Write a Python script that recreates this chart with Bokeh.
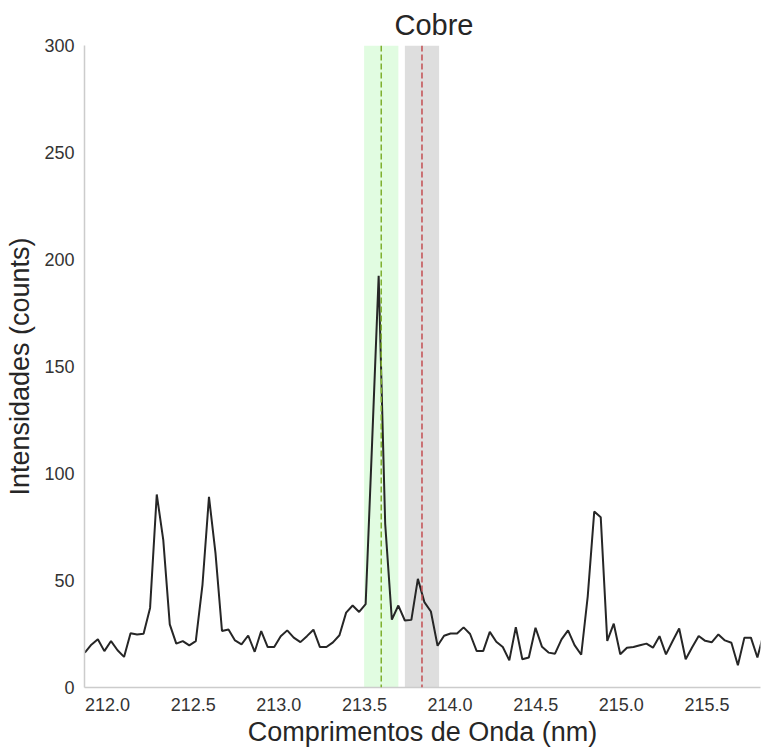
from bokeh.plotting import figure
from bokeh.models import Range1d, BoxAnnotation, Span, FixedTicker, ColumnDataSource
from bokeh.embed import file_html
from bokeh.resources import INLINE

# Wavelength grid (nm)
wavelength = [
    211.867, 211.905, 211.943, 211.981, 212.020, 212.058, 212.096, 212.134, 212.172, 212.210,
    212.248, 212.287, 212.325, 212.363, 212.401, 212.439, 212.477, 212.515, 212.554, 212.592,
    212.630, 212.668, 212.706, 212.744, 212.782, 212.821, 212.859, 212.897, 212.935, 212.973,
    213.011, 213.049, 213.087, 213.126, 213.164, 213.202, 213.240, 213.278, 213.316, 213.354,
    213.393, 213.431, 213.469, 213.507, 213.545, 213.583, 213.621, 213.660, 213.698, 213.736,
    213.774, 213.812, 213.850, 213.888, 213.927, 213.965, 214.003, 214.041, 214.079, 214.117,
    214.155, 214.194, 214.232, 214.270, 214.308, 214.346, 214.384, 214.422, 214.460, 214.499,
    214.537, 214.575, 214.613, 214.651, 214.689, 214.727, 214.766, 214.804, 214.842, 214.880,
    214.918, 214.956, 214.994, 215.033, 215.071, 215.109, 215.147, 215.185, 215.223, 215.261,
    215.300, 215.338, 215.376, 215.414, 215.452, 215.490, 215.528, 215.567, 215.605, 215.643,
    215.681, 215.719, 215.757, 215.795, 215.834,
]

# Intensities (counts)
intensity = [
    16.3, 20.0, 22.5, 17.0, 21.7, 17.4, 14.3, 25.4, 24.8, 25.1,
    37.2, 90.2, 69.0, 29.5, 20.5, 21.7, 19.7, 21.7, 48.0, 89.1,
    62.8, 26.4, 27.1, 22.0, 20.2, 24.3, 16.7, 26.4, 18.9, 18.9,
    23.9, 26.7, 23.3, 21.2, 24.0, 27.0, 18.9, 18.9, 21.1, 24.4,
    35.0, 38.3, 35.3, 39.0, 115.0, 192.4, 76.6, 31.7, 38.3, 31.3,
    31.6, 50.8, 39.9, 35.5, 19.5, 24.2, 25.2, 25.2, 28.1, 25.0,
    17.1, 17.1, 26.0, 21.4, 18.9, 12.7, 28.2, 13.2, 14.0, 27.9,
    19.0, 16.3, 15.8, 22.5, 26.7, 19.8, 15.3, 42.6, 82.2, 79.5,
    21.8, 29.8, 15.5, 18.6, 18.9, 19.7, 20.5, 18.6, 24.0, 15.5,
    21.7, 27.6, 13.2, 18.8, 24.1, 21.8, 21.1, 24.8, 22.0, 20.9,
    10.4, 23.3, 23.3, 14.0, 26.0,
]

x_limits = [211.865, 215.813]
y_limits = [0, 300]
x_ticks = [212.0, 212.5, 213.0, 213.5, 214.0, 214.5, 215.0, 215.5]
y_ticks = [0, 50, 100, 150, 200, 250, 300]

line_cu = 213.598       # reference line (green)
band_cu = [213.498, 213.698]
line_other = 213.836    # second line (red)
band_other = [213.736, 213.936]

FONT = "Liberation Sans"

p = figure(width=761, height=749, output_backend="svg", toolbar_location=None,
           x_range=Range1d(*x_limits), y_range=Range1d(*y_limits),
           title="Cobre",
           min_border_left=84, min_border_right=1, min_border_top=45, min_border_bottom=59)

p.background_fill_color = "white"
p.border_fill_color = "white"
p.outline_line_color = None
p.xgrid.grid_line_color = None
p.ygrid.grid_line_color = None

p.title.text_font = FONT
p.title.text_font_size = "29px"
p.title.text_font_style = "normal"
p.title.text_color = "#262626"
p.title.align = "left"
p.title.offset = 310

for ax in (p.xaxis[0], p.yaxis[0]):
    ax.axis_line_color = "#cccccc"
    ax.axis_line_width = 1.5
    ax.major_tick_line_color = None
    ax.minor_tick_line_color = None
    ax.major_tick_out = 0
    ax.major_tick_in = 0
    ax.minor_tick_out = 0
    ax.major_label_text_font = FONT
    ax.major_label_text_font_size = "18px"
    ax.major_label_text_color = "#333333"
    ax.axis_label_text_font = FONT
    ax.axis_label_text_font_size = "27px"
    ax.axis_label_text_font_style = "normal"
    ax.axis_label_text_color = "#262626"

p.xaxis[0].ticker = FixedTicker(ticks=x_ticks)
p.yaxis[0].ticker = FixedTicker(ticks=y_ticks)
p.xaxis[0].major_label_overrides = {t: f"{t:.1f}" for t in x_ticks}
p.xaxis[0].axis_label = "Comprimentos de Onda (nm)"
p.yaxis[0].axis_label = "Intensidades (counts)"
p.xaxis[0].major_label_standoff = 10
p.yaxis[0].major_label_standoff = 10
p.xaxis[0].axis_label_standoff = 3
p.yaxis[0].axis_label_standoff = 6

p.add_layout(BoxAnnotation(left=band_cu[0], right=band_cu[1], fill_color="#e1fce1",
                           fill_alpha=1.0, line_color=None, level="underlay"))
p.add_layout(BoxAnnotation(left=band_other[0], right=band_other[1], fill_color="#dedede",
                           fill_alpha=1.0, line_color=None, level="underlay"))

src = ColumnDataSource(data=dict(x=wavelength, y=intensity))
p.line("x", "y", source=src, line_color="#262626", line_width=2)

p.add_layout(Span(location=line_cu, dimension="height", line_color="#7fb030",
                  line_width=1.5, line_dash="6 3"))
p.add_layout(Span(location=line_other, dimension="height", line_color="#c44e52",
                  line_width=1.5, line_dash="6 3"))

open("out.html", "w").write(file_html(p, INLINE))
